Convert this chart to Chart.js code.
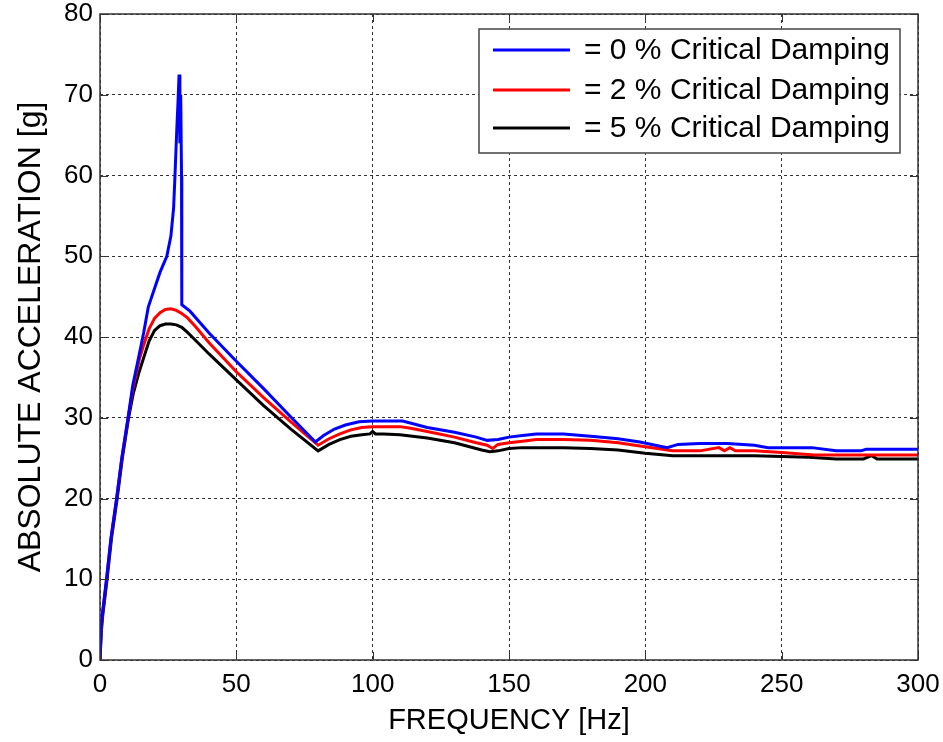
<!DOCTYPE html>
<html>
<head>
<meta charset="utf-8">
<script src="https://cdn.jsdelivr.net/npm/chart.js@4.4.0/dist/chart.umd.min.js"></script>
<style>
  html, body { margin: 0; padding: 0; background: #fff; }
  #wrap { width: 943px; height: 742px; }
</style>
</head>
<body>
<div id="wrap"><canvas id="myChart" width="943" height="742"></canvas></div>
<script>
// response spectrum
const xTicks = [0, 50, 100, 150, 200, 250, 300];
const yTicks = [0, 10, 20, 30, 40, 50, 60, 70, 80];

const freq0 = [0, 0.4, 1.0, 2.4, 4.0, 6.1, 8.0, 10.3, 12.0, 14.0, 16.0, 17.7, 20.0, 22.0, 24.5, 26.0, 27.0, 27.5, 28.2, 28.6, 29.0, 29.3, 29.6, 29.9, 30.0, 33, 40, 50, 60, 70, 79, 82, 86, 90, 95, 100, 105, 111, 120, 130, 138, 142, 146, 150, 155, 160, 170, 180, 190, 198, 205, 208, 212, 220, 230, 240, 245, 255, 261, 270, 279, 281, 290, 300];
const acc0 = [0, 4, 6, 10, 15, 20, 25, 30, 34, 37.2, 40.5, 43.7, 46, 48, 50, 52.5, 56, 60, 66, 69, 72.5, 64, 70, 60, 44, 43.2, 40.5, 37.0, 33.6, 30.1, 27.0, 27.8, 28.6, 29.1, 29.5, 29.6, 29.6, 29.6, 28.8, 28.2, 27.6, 27.2, 27.3, 27.6, 27.8, 28.0, 28.0, 27.7, 27.4, 27.0, 26.5, 26.3, 26.7, 26.8, 26.8, 26.6, 26.3, 26.3, 26.3, 25.9, 25.9, 26.1, 26.1, 26.1];

const freq2 = [0, 0.4, 1.0, 2.4, 4.0, 6.1, 8.0, 10.3, 12.0, 14.4, 16.0, 18.0, 20.0, 22.0, 24.0, 26.0, 28.0, 30.0, 32.0, 35, 40, 50, 60, 70, 80, 84, 88, 92, 96, 100, 110, 114, 120, 130, 138, 142, 144, 146, 150, 155, 160, 170, 180, 190, 200, 210, 220, 227, 229, 231, 233, 240, 250, 262, 270, 280, 290, 300];
const acc2 = [0, 3.7, 6, 10, 15, 20, 25, 30, 33.5, 37.2, 39, 41, 42.3, 43, 43.4, 43.5, 43.3, 42.9, 42.4, 41.3, 39.3, 35.7, 32.5, 29.5, 26.6, 27.4, 28.0, 28.5, 28.8, 28.9, 28.9, 28.7, 28.3, 27.6, 26.9, 26.6, 26.2, 26.7, 26.9, 27.1, 27.3, 27.3, 27.2, 26.9, 26.4, 25.9, 25.9, 26.3, 25.9, 26.3, 25.9, 25.9, 25.7, 25.4, 25.4, 25.4, 25.4, 25.4];

const freq5 = [0, 0.5, 1.0, 2.6, 4.2, 6.3, 8.2, 10.5, 12.2, 14.2, 15.8, 18.0, 20.0, 22.0, 24.0, 26.0, 28.0, 30.0, 32.0, 35, 40, 50, 60, 70, 80, 84, 88, 92, 96, 99, 100, 101, 104, 110, 120, 130, 140, 143, 146, 150, 155, 160, 170, 180, 190, 200, 210, 220, 240, 260, 270, 280, 283, 285, 290, 300];
const acc5 = [0, 3.5, 5.5, 10, 15, 20, 25, 30, 33, 35.5, 37.2, 39.5, 40.8, 41.4, 41.6, 41.6, 41.5, 41.2, 40.6, 39.6, 37.9, 34.7, 31.5, 28.6, 25.9, 26.7, 27.3, 27.7, 27.9, 28.0, 28.3, 28.0, 28.0, 27.9, 27.5, 26.9, 26.0, 25.8, 25.9, 26.2, 26.3, 26.3, 26.3, 26.2, 26.0, 25.6, 25.3, 25.3, 25.3, 25.1, 24.9, 24.9, 25.3, 24.9, 24.9, 24.9];

const labels = ['= 0 % Critical Damping', '= 2 % Critical Damping', '= 5 % Critical Damping'];
const colors = ['#0000ff', '#ff0000', '#000000'];

function pts(xs, ys) {
  return xs.map((x, i) => ({ x: x, y: ys[i] }));
}

// box round the axes, inner tick marks and the legend box inside the plot
const framePlugin = {
  id: 'frame',
  afterDatasetsDraw(chart) {
    const ctx = chart.ctx;
    const a = chart.chartArea;
    const xs = chart.scales.x, ys = chart.scales.y;
    ctx.save();
    ctx.strokeStyle = '#333';
    ctx.lineWidth = 1.5;
    ctx.strokeRect(a.left, a.top, a.right - a.left, a.bottom - a.top);
    ctx.lineWidth = 1;
    ctx.beginPath();
    xTicks.forEach(v => {
      const px = Math.round(xs.getPixelForValue(v)) + 0.5;
      ctx.moveTo(px, a.bottom); ctx.lineTo(px, a.bottom - 8);
      ctx.moveTo(px, a.top); ctx.lineTo(px, a.top + 8);
    });
    yTicks.forEach(v => {
      const py = Math.round(ys.getPixelForValue(v)) + 0.5;
      ctx.moveTo(a.left, py); ctx.lineTo(a.left + 8, py);
      ctx.moveTo(a.right, py); ctx.lineTo(a.right - 8, py);
    });
    ctx.stroke();

    // legend
    const bx = 479, by = 29, bw = 421, bh = 124;
    ctx.fillStyle = '#fff';
    ctx.fillRect(bx, by, bw, bh);
    ctx.strokeStyle = '#444';
    ctx.lineWidth = 1.5;
    ctx.strokeRect(bx, by, bw, bh);
    ctx.font = '30px "Liberation Sans", Arial, sans-serif';
    ctx.textBaseline = 'middle';
    ctx.textAlign = 'left';
    const rowY = [50, 90, 128];
    chart.data.datasets.forEach((ds, i) => {
      ctx.strokeStyle = ds.borderColor;
      ctx.lineWidth = 3;
      ctx.beginPath();
      ctx.moveTo(493, rowY[i]); ctx.lineTo(570, rowY[i]);
      ctx.stroke();
      ctx.fillStyle = '#000';
      ctx.fillText(ds.label, 584, rowY[i] + 1);
    });
    ctx.restore();
  }
};

const config = {
  type: 'line',
  data: {
    datasets: [
      { label: labels[0], data: pts(freq0, acc0), borderColor: colors[0], borderWidth: 3, pointRadius: 0, tension: 0, fill: false },
      { label: labels[1], data: pts(freq2, acc2), borderColor: colors[1], borderWidth: 3, pointRadius: 0, tension: 0, fill: false },
      { label: labels[2], data: pts(freq5, acc5), borderColor: colors[2], borderWidth: 3, pointRadius: 0, tension: 0, fill: false }
    ]
  },
  options: {
    responsive: false,
    animation: false,
    events: [],
    layout: { padding: { top: 14, right: 25, left: 0, bottom: 0 } },
    plugins: { legend: { display: false }, tooltip: { enabled: false } },
    scales: {
      x: {
        type: 'linear',
        min: 0, max: 300,
        afterBuildTicks: s => { s.ticks = xTicks.map(v => ({ value: v })); },
        afterFit: s => { s.height = 82; s.paddingLeft = 0; s.paddingRight = 0; },
        grid: { color: '#333', lineWidth: 1, drawTicks: false },
        border: { display: false, dash: [3, 3] },
        ticks: { color: '#000', padding: 9, maxRotation: 0, font: { family: '"Liberation Sans", Arial, sans-serif', size: 26 } },
        title: { display: true, text: 'FREQUENCY [Hz]', color: '#000', padding: { top: 0, bottom: 4 }, font: { family: '"Liberation Sans", Arial, sans-serif', size: 29 } }
      },
      y: {
        min: 0, max: 80,
        afterBuildTicks: s => { s.ticks = yTicks.map(v => ({ value: v })); },
        afterFit: s => { s.width = 100; s.paddingTop = 0; s.paddingBottom = 0; },
        grid: { color: '#333', lineWidth: 1, drawTicks: false },
        border: { display: false, dash: [3, 3] },
        ticks: { color: '#000', padding: 7, font: { family: '"Liberation Sans", Arial, sans-serif', size: 26 } },
        title: { display: true, text: 'ABSOLUTE ACCELERATION [g]', color: '#000', padding: { top: 12, bottom: 0 }, font: { family: '"Liberation Sans", Arial, sans-serif', size: 32 } }
      }
    }
  },
  plugins: [framePlugin]
};

const myChart = new Chart(document.getElementById('myChart'), config);
</script>
</body>
</html>
